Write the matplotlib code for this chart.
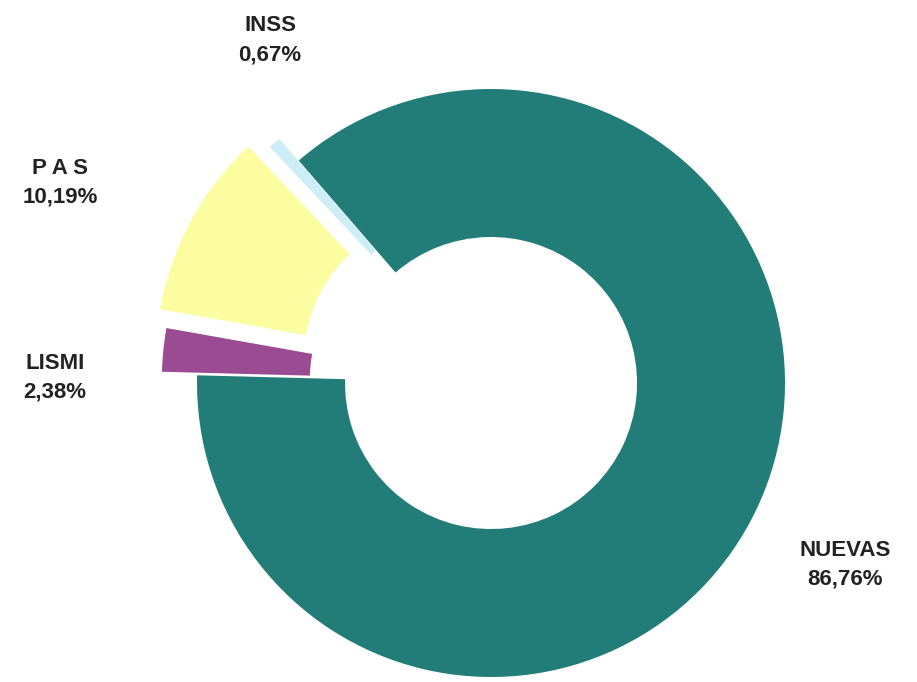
import matplotlib
matplotlib.use("Agg")
import matplotlib.pyplot as plt

# data
categories = ["NUEVAS", "INSS", "P A S", "LISMI"]
values = [86.76, 0.67, 10.19, 2.38]
pct_labels = ["86,76%", "0,67%", "10,19%", "2,38%"]

colors = ["#227d78", "#cdeef7", "#fcfca0", "#9a4b92"]
explode = [0.0, 0.10, 0.16, 0.12]

# label centres in pixels (x from left, y from top)
label_pos = [(845, 565), (270, 40), (60, 183), (55, 378)]

W, H = 917, 682
cx, cy, R = 491, 383, 294

fig = plt.figure(figsize=(W / 100, H / 100), dpi=100)
ax = fig.add_axes([0, 0, 1, 1])

ax.pie(values, colors=colors, explode=explode, startangle=178.5,
       counterclock=True, radius=1.0,
       wedgeprops=dict(width=148 / R, linewidth=0))

ax.set_xlim(-cx / R, (W - cx) / R)
ax.set_ylim(-(H - cy) / R, cy / R)
ax.set_aspect("equal", adjustable="datalim")
ax.axis("off")

fam = ["Liberation Sans Narrow", "Liberation Sans", "DejaVu Sans"]
for name, pct, (px, py) in zip(categories, pct_labels, label_pos):
    fig.text(px / W, 1 - py / H, name + "\n" + pct, ha="center", va="center",
             fontsize=16, fontweight="bold", family=fam, color="#222222",
             linespacing=1.5)

fig.savefig("out.png", dpi=100, facecolor="white")
